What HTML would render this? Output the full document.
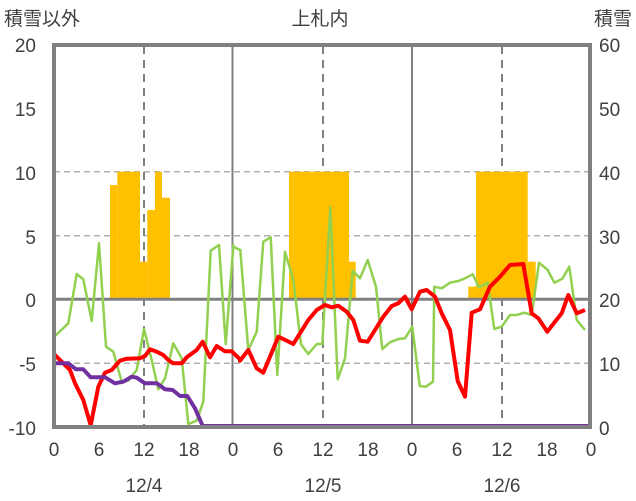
<!DOCTYPE html>
<html><head><meta charset="utf-8"><style>
html,body{margin:0;padding:0;background:#fff;}
svg{display:block;}
text{font-family:"Liberation Sans","Noto Sans CJK JP",sans-serif;fill:#404040;font-size:19px;}
</style></head><body>
<svg width="636" height="501" viewBox="0 0 636 501" xmlns="http://www.w3.org/2000/svg">
<!-- grid -->
<g stroke="#b0b0b0" stroke-width="1.5" stroke-dasharray="6,4">
<line x1="54" y1="171.7" x2="591" y2="171.7"/>
<line x1="54" y1="235.7" x2="591" y2="235.7"/>
<line x1="54" y1="363.3" x2="591" y2="363.3"/>
</g>
<g stroke="#808080" stroke-width="2" stroke-dasharray="8,6">
<line x1="144" y1="46" x2="144" y2="426"/>
<line x1="323" y1="46" x2="323" y2="426"/>
<line x1="502" y1="46" x2="502" y2="426"/>
</g>
<g stroke="#808080" stroke-width="2">
<line x1="232.5" y1="44" x2="232.5" y2="427"/>
<line x1="412" y1="44" x2="412" y2="427"/>
</g>
<!-- bars -->
<g fill="#FFC000">
<rect x="110" y="185" width="7.3" height="114.3"/>
<rect x="117.3" y="171.7" width="22.7" height="127.6"/>
<rect x="140" y="261.7" width="7.3" height="37.6"/>
<rect x="147.3" y="210" width="7.7" height="89.3"/>
<rect x="155" y="171.7" width="7" height="127.6"/>
<rect x="162" y="197.7" width="8" height="101.6"/>
<rect x="289" y="171.7" width="60" height="127.6"/>
<rect x="349" y="261.7" width="6.7" height="37.6"/>
<rect x="468.3" y="286.7" width="7.7" height="12.6"/>
<rect x="476" y="171.7" width="51.7" height="127.6"/>
<rect x="527.7" y="261.7" width="8" height="37.6"/>
</g>
<line x1="54" y1="299.3" x2="591" y2="299.3" stroke="#808080" stroke-width="3"/>
<!-- green -->
<polyline fill="none" stroke="#92D050" stroke-width="2.5" stroke-linejoin="round" points="53.3,337.7 68.3,323.3 76.7,274 83.3,279.3 91.7,321 99,243.3 106,346.7 113.3,351.7 121.7,381.7 128.3,380.7 136.7,370 144,329 151.7,360 158.3,389.3 165,378.3 173.3,343.3 181.7,358.3 188.3,424 196.7,420.7 203.3,401.7 210.7,250.7 219,245 225.7,344 233.3,246.7 233.3,245 233.3,246.7 240.3,250 248.3,350 256.7,331.7 263.3,241.7 270.7,237.3 277.3,375 285,251.7 293.3,280 301,344.3 308.3,354 316.7,344 322.3,344 330.3,207.3 337.7,379.3 345,358.3 352.7,270.7 360,278.3 367.7,260 376,286.7 382.3,349 390,342.3 398.3,339 405,338.3 412.3,326.7 419.7,386 426,386.7 433,381.7 434.3,286.7 441.7,288.3 450,282.7 458.3,281 465,278.3 472.7,274.3 479,287.3 487.7,282.7 494.3,329 501.7,326.7 510,315 516.7,315 524.3,312.7 531.7,315 539,262.7 547.7,270 554.3,282.7 562.3,278.7 569.3,266.7 576.7,320 585,330"/>
<!-- red -->
<polyline fill="none" stroke="#FF0000" stroke-width="4" stroke-linejoin="round" points="53.3,353.3 63.3,363.3 70,370 75,383.3 83.3,400 90.7,425.3 98.3,386.7 105,372.7 111.7,370 120,360.7 126.7,358.7 140,358.3 145,356 150,349.3 156.7,351.7 163.3,355 168.3,360 173.3,363.3 181.7,363.3 186.7,357.3 196.7,350 202.7,341.7 210,357.3 216.7,346 225,351.3 231.7,351.3 240,359.3 240,360.7 248.3,350 256.7,368.3 263.3,372.7 270,356.7 278.3,336.7 286.7,340.7 293.3,344 300,333.3 308.3,320 316.7,310 325,305 331.7,307.3 338.3,305.7 346.7,311.7 353.3,320 360,340.7 367.7,341.7 375,330 383.3,316.7 391.7,306 398.3,303.3 405,296.7 411.7,309.3 420,291.7 426.7,290 435,296.7 441.7,313.3 450,330 457.7,381 465,396.7 471.7,312.7 480,309.3 490,286.7 500,276.7 510,265 523.3,264 531.7,313.3 538.3,318.3 547.3,331.7 555,321.7 561.7,313.3 568.3,295 576.7,313.3 585,310"/>
<!-- purple -->
<polyline fill="none" stroke="#7030A0" stroke-width="4" stroke-linejoin="round" points="53.3,363.3 68.3,363.3 76,369.3 83.3,369.3 90.7,377.3 105,377.3 115,383.3 123.3,381.7 131.7,376.7 136.7,377.7 145,383.3 156.7,383.3 165,389.3 172.7,390 180,396 187.3,396 195,408.3 202.7,426 588,426"/>
<!-- frame -->
<path d="M54,427 L54,45 L590,45 L590,427 Z" fill="none" stroke="#808080" stroke-width="4"/>
<line x1="52" y1="427" x2="592" y2="427" stroke="#808080" stroke-width="4"/>
<!-- labels -->
<text x="4" y="25">積雪以外</text>
<text x="320" y="25" text-anchor="middle">上札内</text>
<text x="632" y="25" text-anchor="end">積雪</text>
<g text-anchor="end">
<text x="36" y="52">20</text><text x="36" y="116">15</text><text x="36" y="180">10</text>
<text x="36" y="244">5</text><text x="36" y="307">0</text><text x="36" y="371">-5</text><text x="36" y="435">-10</text>
</g>
<g text-anchor="start">
<text x="599" y="52">60</text><text x="599" y="116">50</text><text x="599" y="180">40</text>
<text x="599" y="244">30</text><text x="599" y="307">20</text><text x="599" y="371">10</text><text x="599" y="435">0</text>
</g>
<g text-anchor="middle">
<text x="54" y="456">0</text><text x="99" y="456">6</text><text x="144" y="456">12</text><text x="189" y="456">18</text>
<text x="233" y="456">0</text><text x="278" y="456">6</text><text x="323" y="456">12</text><text x="368" y="456">18</text>
<text x="412" y="456">0</text><text x="457" y="456">6</text><text x="502" y="456">12</text><text x="547" y="456">18</text>
<text x="591" y="456">0</text>
<text x="144" y="492">12/4</text><text x="323" y="492">12/5</text><text x="502" y="492">12/6</text>
</g>
</svg>
</body></html>
